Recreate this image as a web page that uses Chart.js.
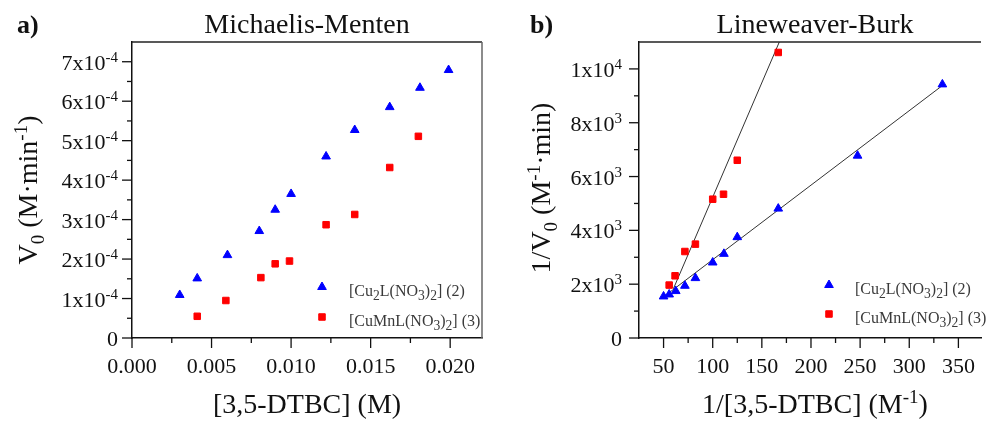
<!DOCTYPE html>
<html>
<head>
<meta charset="utf-8">
<script src="https://cdn.jsdelivr.net/npm/chart.js@4.4.1/dist/chart.umd.min.js"></script>
<style>
  html, body { margin:0; padding:0; background:#fff; }
  .wrap { position:relative; width:987px; height:422px; overflow:hidden; }
  canvas { position:absolute; top:0; }
  #mm { left:0; }
  #lb { left:490px; }
</style>
</head>
<body>
<div class="wrap">
  <canvas id="mm" width="490" height="422"></canvas>
  <canvas id="lb" width="497" height="422"></canvas>
</div>
<script>
// ---- panel a) Michaelis-Menten ----
const mmCuCu_x = [0.0030, 0.0041, 0.0060, 0.0080, 0.0090, 0.0100, 0.0122, 0.0140, 0.0162, 0.0181, 0.0199];
const mmCuCu_y = [1.09e-4, 1.51e-4, 2.10e-4, 2.71e-4, 3.25e-4, 3.65e-4, 4.60e-4, 5.27e-4, 5.85e-4, 6.34e-4, 6.79e-4];
const mmCuMn_x = [0.0041, 0.0059, 0.0081, 0.0090, 0.0099, 0.0122, 0.0140, 0.0162, 0.0180];
const mmCuMn_y = [0.55e-4, 0.95e-4, 1.53e-4, 1.88e-4, 1.95e-4, 2.87e-4, 3.13e-4, 4.32e-4, 5.11e-4];
const mmXMajor = [0, 0.005, 0.010, 0.015, 0.020];
const mmXMinor = [0.0025, 0.0075, 0.0125, 0.0175];
const mmXLabels = ['0.000', '0.005', '0.010', '0.015', '0.020'];
const mmYMajor = [0, 1e-4, 2e-4, 3e-4, 4e-4, 5e-4, 6e-4, 7e-4];
const mmYMinor = [0.5e-4, 1.5e-4, 2.5e-4, 3.5e-4, 4.5e-4, 5.5e-4, 6.5e-4];
const mmYMant = ['0', '1', '2', '3', '4', '5', '6', '7'];

// ---- panel b) Lineweaver-Burk ----
const lbCuCu_x = [50, 55.7, 62.4, 71.7, 82.4, 100, 111.4, 125, 166.7, 247.4, 333.7];
const lbCuCu_y = [1544, 1618, 1744, 1941, 2226, 2806, 3128, 3748, 4809, 6776, 9425];
const lbCuMn_x = [55.7, 61.7, 71.7, 82.4, 100, 111, 125, 166.7];
const lbCuMn_y = [1967, 2312, 3214, 3488, 5158, 5343, 6605, 10612];
const lbFitCuCu_x = [48.5, 334];
const lbFitCuCu_y = [1485, 9390];
const lbFitCuMn_x = [60, 170];
const lbFitCuMn_y = [1830, 11190];
const lbXMajor = [50, 100, 150, 200, 250, 300, 350];
const lbXMinor = [75, 125, 175, 225, 275, 325];
const lbYMajor = [0, 2000, 4000, 6000, 8000, 10000];
const lbYMinor = [1000, 3000, 5000, 7000, 9000];
const lbYLabels = [[['0','']], [['2x10',''],['3','sup']], [['4x10',''],['3','sup']], [['6x10',''],['3','sup']], [['8x10',''],['3','sup']], [['1x10',''],['4','sup']]];

const legendCuCu = [['[Cu',''],['2','sub'],['L(NO',''],['3','sub'],[')',''],['2','sub'],['] (2)','']];
const legendCuMn = [['[CuMnL(NO',''],['3','sub'],[')',''],['2','sub'],['] (3)','']];

const SERIF = "'Liberation Serif', 'Times New Roman', serif";
const BLUE = '#0000ff', RED = '#ff0000';

function pts(xs, ys){ return xs.map((x, i) => ({x, y: ys[i]})); }

// draws text made of [text, mode] pieces, mode '' | 'sub' | 'sup'
function drawRich(ctx, segs, x, y, align, size, color, style, small){
  const k = small || 0.68;
  const f = (s) => `${style || ''} ${s}px ${SERIF}`;
  let w = 0;
  segs.forEach(([t, m]) => { ctx.font = f(m ? size*k : size); w += ctx.measureText(t).width; });
  let cx = align === 'right' ? x - w : align === 'center' ? x - w/2 : x;
  ctx.fillStyle = color;
  ctx.textAlign = 'left';
  ctx.textBaseline = 'alphabetic';
  segs.forEach(([t, m]) => {
    ctx.font = f(m ? size*k : size);
    const dy = m === 'sub' ? size*0.24 : m === 'sup' ? -size*0.36 : 0;
    ctx.fillText(t, cx, y + dy);
    cx += ctx.measureText(t).width;
  });
}

const decor = {
  id: 'decor',
  afterDraw(chart, args, o){
    const ctx = chart.ctx, a = chart.chartArea;
    const xs = chart.scales.x, ys = chart.scales.y;
    ctx.save();
    // frame: top, and right for panel a
    ctx.strokeStyle = '#222'; ctx.lineWidth = 1.5;
    ctx.beginPath(); ctx.moveTo(a.left, a.top); ctx.lineTo(a.right, a.top); ctx.stroke();
    if(o.rightBorder){
      ctx.strokeStyle = '#666';
      ctx.beginPath(); ctx.moveTo(a.right, a.top); ctx.lineTo(a.right, a.bottom); ctx.stroke();
    }
    // tick marks
    ctx.strokeStyle = '#111'; ctx.lineWidth = 1.3;
    const tick = (px, len, horiz) => {
      ctx.beginPath();
      if(horiz){ ctx.moveTo(px, a.bottom); ctx.lineTo(px, a.bottom + len); }
      else { ctx.moveTo(a.left, px); ctx.lineTo(a.left - len, px); }
      ctx.stroke();
    };
    o.xMajor.forEach(v => tick(xs.getPixelForValue(v), 10, true));
    o.xMinor.forEach(v => tick(xs.getPixelForValue(v), 5, true));
    o.yMajor.forEach(v => tick(ys.getPixelForValue(v), 10, false));
    o.yMinor.forEach(v => tick(ys.getPixelForValue(v), 5, false));
    // tick labels
    o.xLabels.forEach((s, i) => drawRich(ctx, [[s, '']], xs.getPixelForValue(o.xMajor[i]), 373, 'center', 22, '#111'));
    o.yLabels.forEach((segs, i) => drawRich(ctx, segs, a.left - o.yGap, ys.getPixelForValue(o.yMajor[i]) + 8, 'right', 22, '#111'));
    // titles
    drawRich(ctx, o.title, o.titleX, 33, 'center', 28, '#111');
    drawRich(ctx, [[o.panel, '']], o.panelX, 33, 'left', 26, '#111', 'bold');
    drawRich(ctx, o.xTitle, o.titleX, 413, 'center', 28, '#111');
    ctx.save();
    ctx.translate(o.yTitleX, o.yTitleY);
    ctx.rotate(-Math.PI/2);
    drawRich(ctx, o.yTitle, 0, 0, 'center', 28, '#111');
    ctx.restore();
    // legend
    o.legend.forEach(l => {
      const ds = chart.data.datasets[l.ds];
      ctx.fillStyle = ds.backgroundColor; ctx.strokeStyle = ds.borderColor;
      ctx.lineWidth = 1;
      Chart.helpers.drawPoint(ctx, {pointStyle: ds.pointStyle, radius: ds.pointRadius, borderWidth: 1, rotation: 0}, l.mx, l.my);
      drawRich(ctx, l.text, l.tx, l.my + 9, 'left', 16, '#3a3a3a', '', 0.85);
    });
    ctx.restore();
  }
};

function axis(min, max, horiz){
  return {
    type: 'linear', min, max,
    grid: { display:false, drawTicks:false },
    border: { display:true, color:'#111', width:1.5 },
    ticks: { display:false },
    afterFit: s => { if(horiz) s.height = 0; else s.width = 0; }
  };
}

function scatterSet(label, data, color, style, r){
  return { label, data, showLine:false, pointStyle:style, pointRadius:r, pointBorderWidth:1,
    backgroundColor:color, borderColor:color, pointHoverRadius:r };
}
function fitSet(data){
  return { data, showLine:true, pointRadius:0, borderColor:'#333', borderWidth:1, backgroundColor:'#333' };
}

new Chart(document.getElementById('mm'), {
  type: 'scatter',
  data: { datasets: [
    scatterSet('[Cu2L(NO3)2] (2)', pts(mmCuCu_x, mmCuCu_y), BLUE, 'triangle', 5),
    scatterSet('[CuMnL(NO3)2] (3)', pts(mmCuMn_x, mmCuMn_y), RED, 'rect', 4.6)
  ]},
  options: {
    responsive:false, animation:false, devicePixelRatio:1,
    layout: { padding: { left:132, top:42, right:8, bottom:84 } },
    scales: { x: axis(0, 0.022, true), y: axis(0, 7.5e-4, false) },
    plugins: {
      legend:{ display:false }, tooltip:{ enabled:false },
      decor: {
        rightBorder:true,
        xMajor: mmXMajor, xMinor: mmXMinor, xLabels: mmXLabels,
        yMajor: mmYMajor, yMinor: mmYMinor, yGap: 14,
        yLabels: mmYMant.map((m, i) => i === 0 ? [['0','']] : [[m + 'x10',''],['-4','sup']]),
        title: [['Michaelis-Menten','']], titleX: 307, panel:'a)', panelX: 17,
        xTitle: [['[3,5-DTBC] (M)','']],
        yTitle: [['V',''],['0','sub'],[' (M·min',''],['-1','sup'],[')','']], yTitleX: 37, yTitleY: 190,
        legend: [
          { ds:0, mx:322, my:287, tx:349, text: legendCuCu },
          { ds:1, mx:322, my:317, tx:349, text: legendCuMn }
        ]
      }
    }
  },
  plugins: [decor]
});

new Chart(document.getElementById('lb'), {
  type: 'scatter',
  data: { datasets: [
    scatterSet('[Cu2L(NO3)2] (2)', pts(lbCuCu_x, lbCuCu_y), BLUE, 'triangle', 5),
    scatterSet('[CuMnL(NO3)2] (3)', pts(lbCuMn_x, lbCuMn_y), RED, 'rect', 4.6),
    fitSet(pts(lbFitCuCu_x, lbFitCuCu_y)),
    fitSet(pts(lbFitCuMn_x, lbFitCuMn_y))
  ]},
  options: {
    responsive:false, animation:false, devicePixelRatio:1,
    layout: { padding: { left:149, top:42, right:0, bottom:84 } },
    scales: { x: axis(25, 373, true), y: axis(0, 11000, false) },
    plugins: {
      legend:{ display:false }, tooltip:{ enabled:false },
      decor: {
        rightBorder:false,
        xMajor: lbXMajor, xMinor: lbXMinor, xLabels: lbXMajor.map(String),
        yMajor: lbYMajor, yMinor: lbYMinor, yGap: 17, yLabels: lbYLabels,
        title: [['Lineweaver-Burk','']], titleX: 325, panel:'b)', panelX: 40,
        xTitle: [['1/[3,5-DTBC] (M',''],['-1','sup'],[')','']],
        yTitle: [['1/V',''],['0','sub'],[' (M',''],['-1','sup'],['·min)','']], yTitleX: 60, yTitleY: 188,
        legend: [
          { ds:0, mx:339, my:285, tx:365, text: legendCuCu },
          { ds:1, mx:339, my:314, tx:365, text: legendCuMn }
        ]
      }
    }
  },
  plugins: [decor]
});
</script>
</body>
</html>
